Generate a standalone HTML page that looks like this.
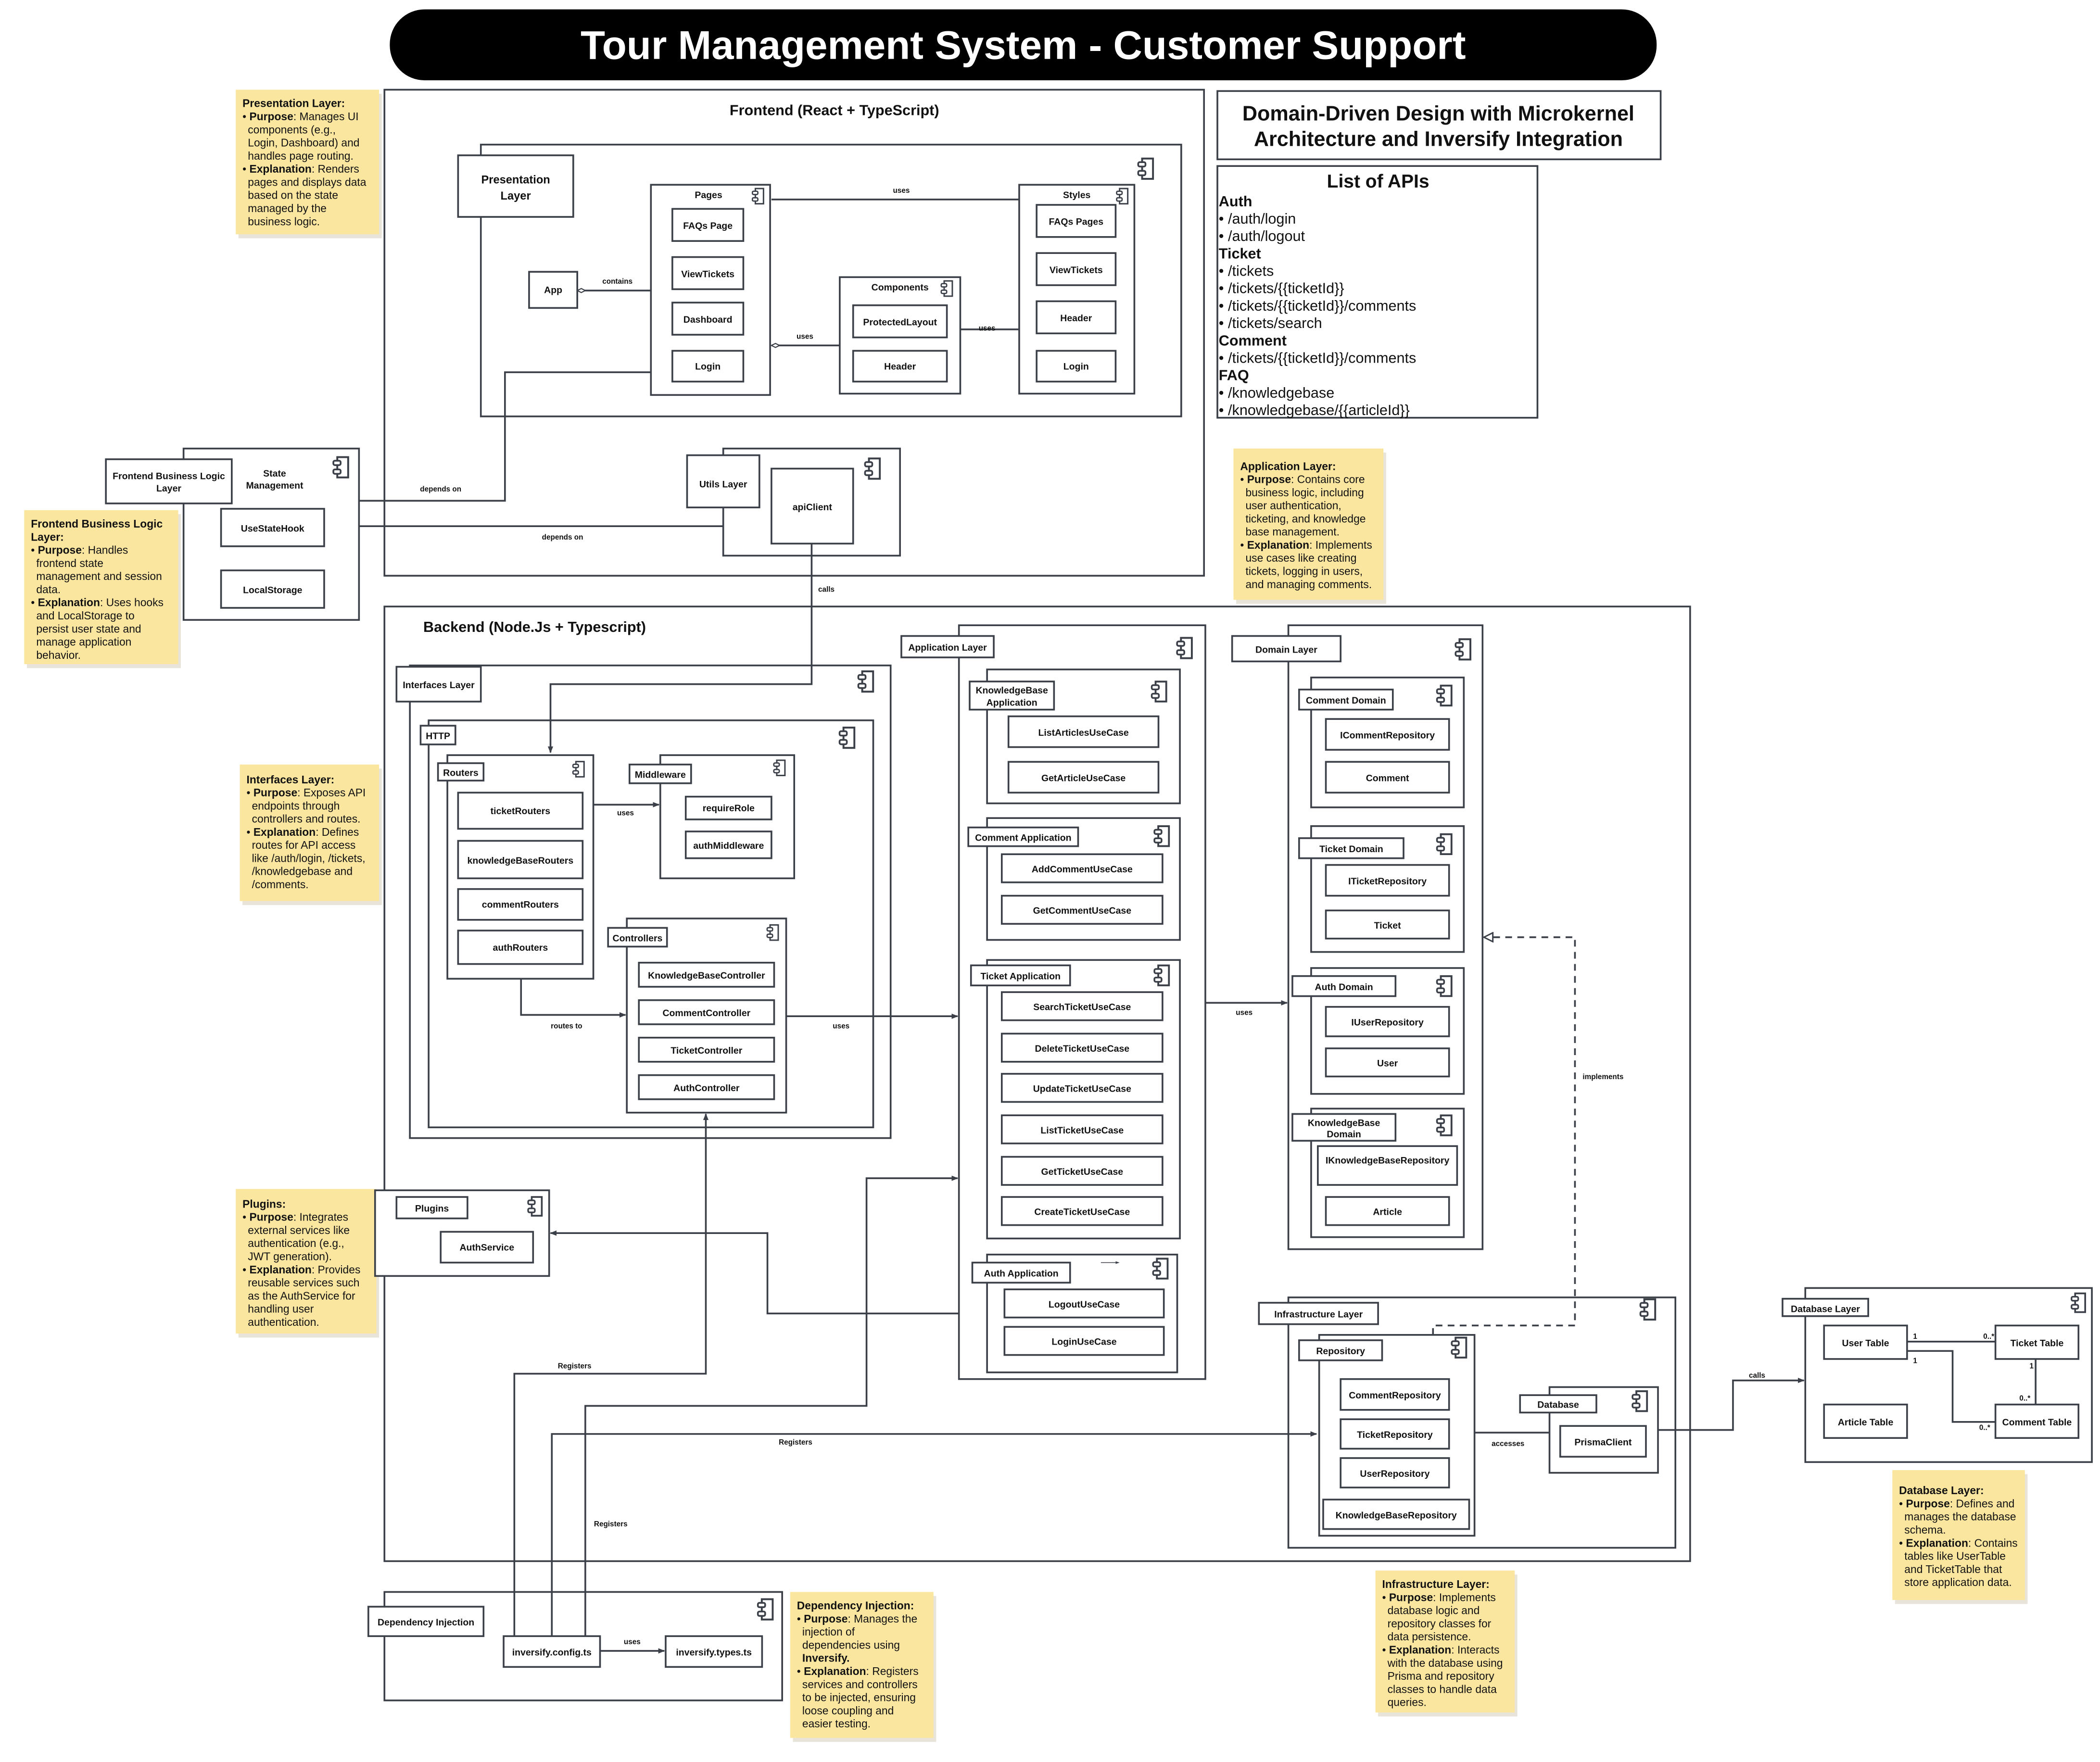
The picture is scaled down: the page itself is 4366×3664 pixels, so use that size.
<!DOCTYPE html>
<html><head><meta charset="utf-8"><style>
html,body{margin:0;padding:0;background:#fff;}
svg{display:block;}
text{font-family:"Liberation Sans",sans-serif;fill:#111;}
.b{fill:#fff;stroke:#3b3f48;stroke-width:1.3;}
.n{fill:none;stroke:#3b3f48;stroke-width:1.3;}
.d{fill:none;stroke:#3b3f48;stroke-width:1.3;stroke-dasharray:5,4;}
.l{font-size:7px;font-weight:bold;text-anchor:middle;}
.s{font-size:5.5px;font-weight:bold;text-anchor:middle;}
.note{fill:#fbe6a0;}
.sh{fill:#e8e4da;}
.nt{font-size:8.2px;}
.nt .k{font-weight:bold;}
</style></head><body>
<svg width="4366" height="3664" viewBox="0 0 1568 1316" xmlns="http://www.w3.org/2000/svg">
<defs>
<symbol id="ic" viewBox="0 0 12 16"><rect x="3.5" y="1" width="7.5" height="14" fill="#fff" stroke="#3b3f48" stroke-width="1.3"/><rect x="0.8" y="3.5" width="5" height="3" rx="1" fill="#fff" stroke="#3b3f48" stroke-width="1.2"/><rect x="0.8" y="9.5" width="5" height="3" rx="1" fill="#fff" stroke="#3b3f48" stroke-width="1.2"/></symbol>
<marker id="ar" viewBox="0 0 10 10" refX="9" refY="5" markerUnits="userSpaceOnUse" markerWidth="5" markerHeight="5" orient="auto"><path d="M0,1 L10,5 L0,9 z" fill="#3b3f48"/></marker>
<marker id="tri" viewBox="0 0 12 12" refX="11" refY="6" markerUnits="userSpaceOnUse" markerWidth="8" markerHeight="8" orient="auto"><path d="M1,1 L11,6 L1,11 z" fill="#fff" stroke="#3b3f48" stroke-width="1.6"/></marker>
<marker id="dia" viewBox="0 0 14 8" refX="13" refY="4" markerUnits="userSpaceOnUse" markerWidth="7" markerHeight="4" orient="auto"><path d="M1,4 L7,1 L13,4 L7,7 z" fill="#fff" stroke="#3b3f48" stroke-width="1.6"/></marker>
</defs>

<!-- Title -->
<rect x="291" y="7" width="946" height="53" rx="26" fill="#000"/>
<text x="764" y="44" style="font-size:30px;font-weight:bold;fill:#fff;text-anchor:middle;">Tour Management System - Customer Support</text>

<!-- Sticky notes -->
<g>
<rect class="sh" x="178" y="70" width="107" height="108"/>
<rect class="note" x="176" y="67" width="107" height="108"/>
<text class="nt" x="181" y="80"><tspan class="k">Presentation Layer:</tspan><tspan x="181" dy="9.8">• <tspan class="k">Purpose</tspan>: Manages UI</tspan><tspan x="185" dy="9.8">components (e.g.,</tspan><tspan x="185" dy="9.8">Login, Dashboard) and</tspan><tspan x="185" dy="9.8">handles page routing.</tspan><tspan x="181" dy="9.8">• <tspan class="k">Explanation</tspan>: Renders</tspan><tspan x="185" dy="9.8">pages and displays data</tspan><tspan x="185" dy="9.8">based on the state</tspan><tspan x="185" dy="9.8">managed by the</tspan><tspan x="185" dy="9.8">business logic.</tspan></text>

<rect class="sh" x="20" y="384" width="115" height="115"/>
<rect class="note" x="18" y="381" width="115" height="115"/>
<text class="nt" x="23" y="394"><tspan class="k">Frontend Business Logic</tspan><tspan x="23" dy="9.8" class="k">Layer:</tspan><tspan x="23" dy="9.8">• <tspan class="k">Purpose</tspan>: Handles</tspan><tspan x="27" dy="9.8">frontend state</tspan><tspan x="27" dy="9.8">management and session</tspan><tspan x="27" dy="9.8">data.</tspan><tspan x="23" dy="9.8">• <tspan class="k">Explanation</tspan>: Uses hooks</tspan><tspan x="27" dy="9.8">and LocalStorage to</tspan><tspan x="27" dy="9.8">persist user state and</tspan><tspan x="27" dy="9.8">manage application</tspan><tspan x="27" dy="9.8">behavior.</tspan></text>

<rect class="sh" x="688" y="323" width="102" height="105"/>
<rect class="note" x="686" y="320" width="102" height="105"/>
<text class="nt" x="690" y="335"><tspan class="k">Utils Layer:</tspan><tspan x="690" dy="9.8">• <tspan class="k">Purpose</tspan>: Contains</tspan><tspan x="694" dy="9.8">utility functions like the</tspan><tspan x="694" dy="9.8">apiClient for backend</tspan><tspan x="694" dy="9.8">communication.</tspan><tspan x="690" dy="9.8">• <tspan class="k">Explanation</tspan>: Simplifies</tspan><tspan x="694" dy="9.8">API calls to the</tspan><tspan x="694" dy="9.8">backend and handles</tspan><tspan x="694" dy="9.8">HTTP requests.</tspan></text>

<rect class="sh" x="923" y="338" width="112" height="113"/>
<rect class="note" x="921" y="335" width="112" height="113"/>
<text class="nt" x="926" y="351"><tspan class="k">Application Layer:</tspan><tspan x="926" dy="9.8">• <tspan class="k">Purpose</tspan>: Contains core</tspan><tspan x="930" dy="9.8">business logic, including</tspan><tspan x="930" dy="9.8">user authentication,</tspan><tspan x="930" dy="9.8">ticketing, and knowledge</tspan><tspan x="930" dy="9.8">base management.</tspan><tspan x="926" dy="9.8">• <tspan class="k">Explanation</tspan>: Implements</tspan><tspan x="930" dy="9.8">use cases like creating</tspan><tspan x="930" dy="9.8">tickets, logging in users,</tspan><tspan x="930" dy="9.8">and managing comments.</tspan></text>

<rect class="sh" x="1123" y="470" width="107" height="108"/>
<rect class="note" x="1121" y="467" width="107" height="108"/>
<text class="nt" x="1126" y="484"><tspan class="k">Domain Layer:</tspan><tspan x="1126" dy="9.8">• <tspan class="k">Purpose</tspan>: Defines core</tspan><tspan x="1130" dy="9.8">entities (e.g., User,</tspan><tspan x="1130" dy="9.8">Ticket) and interfaces</tspan><tspan x="1130" dy="9.8">(e.g., IUserRepository).</tspan><tspan x="1126" dy="9.8">• <tspan class="k">Explanation</tspan>: Holds the</tspan><tspan x="1130" dy="9.8">application's data</tspan><tspan x="1130" dy="9.8">models and repository</tspan><tspan x="1130" dy="9.8">interfaces.</tspan></text>

<rect class="sh" x="181" y="574" width="104" height="102"/>
<rect class="note" x="179" y="571" width="104" height="102"/>
<text class="nt" x="184" y="585"><tspan class="k">Interfaces Layer:</tspan><tspan x="184" dy="9.8">• <tspan class="k">Purpose</tspan>: Exposes API</tspan><tspan x="188" dy="9.8">endpoints through</tspan><tspan x="188" dy="9.8">controllers and routes.</tspan><tspan x="184" dy="9.8">• <tspan class="k">Explanation</tspan>: Defines</tspan><tspan x="188" dy="9.8">routes for API access</tspan><tspan x="188" dy="9.8">like /auth/login, /tickets,</tspan><tspan x="188" dy="9.8">/knowledgebase  and</tspan><tspan x="188" dy="9.8">/comments.</tspan></text>

<rect class="sh" x="178" y="891" width="105" height="108"/>
<rect class="note" x="176" y="888" width="105" height="108"/>
<text class="nt" x="181" y="902"><tspan class="k">Plugins:</tspan><tspan x="181" dy="9.8">• <tspan class="k">Purpose</tspan>: Integrates</tspan><tspan x="185" dy="9.8">external services like</tspan><tspan x="185" dy="9.8">authentication (e.g.,</tspan><tspan x="185" dy="9.8">JWT generation).</tspan><tspan x="181" dy="9.8">• <tspan class="k">Explanation</tspan>: Provides</tspan><tspan x="185" dy="9.8">reusable services such</tspan><tspan x="185" dy="9.8">as the AuthService for</tspan><tspan x="185" dy="9.8">handling user</tspan><tspan x="185" dy="9.8">authentication.</tspan></text>

<rect class="sh" x="592" y="1192" width="107" height="109"/>
<rect class="note" x="590" y="1189" width="107" height="109"/>
<text class="nt" x="595" y="1202"><tspan class="k">Dependency Injection:</tspan><tspan x="595" dy="9.8">• <tspan class="k">Purpose</tspan>: Manages the</tspan><tspan x="599" dy="9.8">injection of</tspan><tspan x="599" dy="9.8">dependencies using</tspan><tspan x="599" dy="9.8" class="k">Inversify.</tspan><tspan x="595" dy="9.8">• <tspan class="k">Explanation</tspan>: Registers</tspan><tspan x="599" dy="9.8">services and controllers</tspan><tspan x="599" dy="9.8">to be injected, ensuring</tspan><tspan x="599" dy="9.8">loose coupling and</tspan><tspan x="599" dy="9.8">easier testing.</tspan></text>

<rect class="sh" x="1029" y="1176" width="104" height="106"/>
<rect class="note" x="1027" y="1173" width="104" height="106"/>
<text class="nt" x="1032" y="1186"><tspan class="k">Infrastructure Layer:</tspan><tspan x="1032" dy="9.8">• <tspan class="k">Purpose</tspan>: Implements</tspan><tspan x="1036" dy="9.8">database logic and</tspan><tspan x="1036" dy="9.8">repository classes for</tspan><tspan x="1036" dy="9.8">data persistence.</tspan><tspan x="1032" dy="9.8">• <tspan class="k">Explanation</tspan>: Interacts</tspan><tspan x="1036" dy="9.8">with the database using</tspan><tspan x="1036" dy="9.8">Prisma and repository</tspan><tspan x="1036" dy="9.8">classes to handle data</tspan><tspan x="1036" dy="9.8">queries.</tspan></text>

<rect class="sh" x="1415" y="1101" width="99" height="97"/>
<rect class="note" x="1413" y="1098" width="99" height="97"/>
<text class="nt" x="1418" y="1116"><tspan class="k">Database Layer:</tspan><tspan x="1418" dy="9.8">• <tspan class="k">Purpose</tspan>: Defines and</tspan><tspan x="1422" dy="9.8">manages the database</tspan><tspan x="1422" dy="9.8">schema.</tspan><tspan x="1418" dy="9.8">• <tspan class="k">Explanation</tspan>: Contains</tspan><tspan x="1422" dy="9.8">tables like UserTable</tspan><tspan x="1422" dy="9.8">and TicketTable that</tspan><tspan x="1422" dy="9.8">store application data.</tspan></text>
</g>

<!-- Frontend -->
<rect class="b" x="287" y="67" width="612" height="363"/>
<text x="623" y="86" style="font-size:11px;font-weight:bold;text-anchor:middle;">Frontend (React + TypeScript)</text>
<rect class="b" x="359" y="108" width="523" height="203"/>
<use href="#ic" x="849" y="117" width="13" height="18"/>
<rect class="b" x="342" y="116" width="86" height="46"/>
<text class="l" x="385" y="137" style="font-size:8.5px">Presentation</text><text class="l" x="385" y="149" style="font-size:8.5px">Layer</text>

<rect class="b" x="486" y="138" width="89" height="157"/>
<text class="l" x="529" y="148">Pages</text><use href="#ic" x="561" y="140" width="10" height="13"/>
<rect class="b" x="502" y="156" width="53" height="24"/><text class="l" x="528.5" y="171">FAQs Page</text>
<rect class="b" x="502" y="192" width="53" height="24"/><text class="l" x="528.5" y="207">ViewTickets</text>
<rect class="b" x="502" y="226" width="53" height="24"/><text class="l" x="528.5" y="241">Dashboard</text>
<rect class="b" x="502" y="262" width="53" height="23"/><text class="l" x="528.5" y="276">Login</text>

<rect class="b" x="761" y="138" width="86" height="156"/>
<text class="l" x="804" y="148">Styles</text><use href="#ic" x="833" y="140" width="10" height="13"/>
<rect class="b" x="774" y="153" width="59" height="24"/><text class="l" x="803.5" y="168">FAQs Pages</text>
<rect class="b" x="774" y="189" width="59" height="24"/><text class="l" x="803.5" y="204">ViewTickets</text>
<rect class="b" x="774" y="225" width="59" height="24"/><text class="l" x="803.5" y="240">Header</text>
<rect class="b" x="774" y="262" width="59" height="23"/><text class="l" x="803.5" y="276">Login</text>

<rect class="b" x="627" y="207" width="90" height="87"/>
<text class="l" x="672" y="217">Components</text><use href="#ic" x="702" y="209" width="10" height="13"/>
<rect class="b" x="637" y="228" width="70" height="24"/><text class="l" x="672" y="243">ProtectedLayout</text>
<rect class="b" x="637" y="262" width="70" height="23"/><text class="l" x="672" y="276">Header</text>

<rect class="b" x="395" y="203" width="36" height="27"/><text class="l" x="413" y="219">App</text>
<line class="n" x1="486" y1="217" x2="431" y2="217" marker-end="url(#dia)"/>
<text class="s" x="461" y="212">contains</text>
<line class="n" x1="576" y1="149" x2="761" y2="149"/><text class="s" x="673" y="144">uses</text>
<line class="n" x1="627" y1="258" x2="576" y2="258" marker-end="url(#dia)"/><text class="s" x="601" y="253">uses</text>
<line class="n" x1="717" y1="246" x2="761" y2="246"/><text class="s" x="737" y="247">uses</text>

<polyline class="n" points="486,278 377,278 377,374 268,374"/><text class="s" x="329" y="367">depends on</text>

<rect class="b" x="540" y="335" width="132" height="80"/>
<use href="#ic" x="645" y="341" width="13" height="18"/>
<rect class="b" x="513" y="340" width="54" height="39"/><text class="l" x="540" y="364">Utils Layer</text>
<rect class="b" x="576" y="350" width="61" height="56"/><text class="l" x="606.5" y="381">apiClient</text>
<line class="n" x1="268" y1="393" x2="540" y2="393"/><text class="s" x="420" y="403">depends on</text>

<rect class="b" x="137" y="335" width="131" height="128"/>
<use href="#ic" x="248" y="340" width="13" height="18"/>
<rect class="b" x="79" y="343" width="94" height="33"/>
<text class="l" x="126" y="358">Frontend Business Logic</text><text class="l" x="126" y="367">Layer</text>
<text class="l" x="205" y="356">State</text><text class="l" x="205" y="365">Management</text>
<rect class="b" x="165" y="380" width="77" height="28"/><text class="l" x="203.5" y="397">UseStateHook</text>
<rect class="b" x="165" y="426" width="77" height="28"/><text class="l" x="203.5" y="443">LocalStorage</text>

<!-- DDD title & APIs -->
<rect class="b" x="909" y="68" width="331" height="51"/>
<text x="1074" y="90" style="font-size:15.5px;font-weight:bold;text-anchor:middle;">Domain-Driven Design with Microkernel</text>
<text x="1074" y="109" style="font-size:15.5px;font-weight:bold;text-anchor:middle;">Architecture and Inversify Integration</text>
<rect class="b" x="909" y="124" width="239" height="188"/>
<text x="1029" y="140" style="font-size:14px;font-weight:bold;text-anchor:middle;">List of APIs</text>
<text x="910" y="154" style="font-size:11px;"><tspan font-weight="bold">Auth</tspan><tspan x="910" dy="13">• /auth/login</tspan><tspan x="910" dy="13">• /auth/logout</tspan><tspan x="910" dy="13" font-weight="bold">Ticket</tspan><tspan x="910" dy="13">• /tickets</tspan><tspan x="910" dy="13">• /tickets/{{ticketId}}</tspan><tspan x="910" dy="13">• /tickets/{{ticketId}}/comments</tspan><tspan x="910" dy="13">• /tickets/search</tspan><tspan x="910" dy="13" font-weight="bold">Comment</tspan><tspan x="910" dy="13">• /tickets/{{ticketId}}/comments</tspan><tspan x="910" dy="13" font-weight="bold">FAQ</tspan><tspan x="910" dy="13">• /knowledgebase</tspan><tspan x="910" dy="13">• /knowledgebase/{{articleId}}</tspan></text>

<!-- Backend -->
<rect class="b" x="287" y="453" width="975" height="713"/>
<text x="316" y="472" style="font-size:11px;font-weight:bold;">Backend (Node.Js + Typescript)</text>

<!-- Interfaces -->
<rect class="b" x="306" y="497" width="359" height="353"/>
<use href="#ic" x="640" y="500" width="13" height="18"/>
<rect class="b" x="296" y="498" width="63" height="26"/><text class="l" x="327.5" y="514">Interfaces Layer</text>
<rect class="b" x="320" y="538" width="332" height="304"/>
<use href="#ic" x="626" y="542" width="13" height="18"/>
<rect class="b" x="314" y="542" width="26" height="14"/><text class="l" x="327" y="552">HTTP</text>

<rect class="b" x="334" y="564" width="109" height="167"/>
<use href="#ic" x="427" y="568" width="10" height="13"/>
<rect class="b" x="327" y="570" width="34" height="13"/><text class="l" x="344" y="579.5">Routers</text>
<rect class="b" x="342" y="592" width="93" height="27"/><text class="l" x="388.5" y="608">ticketRouters</text>
<rect class="b" x="342" y="628" width="93" height="28"/><text class="l" x="388.5" y="645">knowledgeBaseRouters</text>
<rect class="b" x="342" y="664" width="93" height="23"/><text class="l" x="388.5" y="678">commentRouters</text>
<rect class="b" x="342" y="695" width="93" height="25"/><text class="l" x="388.5" y="710">authRouters</text>

<rect class="b" x="493" y="564" width="100" height="92"/>
<use href="#ic" x="577" y="567" width="10" height="13"/>
<rect class="b" x="470" y="571" width="46" height="14"/><text class="l" x="493" y="581">Middleware</text>
<rect class="b" x="512" y="595" width="64" height="17"/><text class="l" x="544" y="606">requireRole</text>
<rect class="b" x="512" y="621" width="64" height="20"/><text class="l" x="544" y="634">authMiddleware</text>
<line class="n" x1="443" y1="601" x2="492" y2="601" marker-end="url(#ar)"/><text class="s" x="467" y="609">uses</text>

<rect class="b" x="468" y="686" width="119" height="145"/>
<use href="#ic" x="572" y="690" width="10" height="13"/>
<rect class="b" x="454" y="693" width="44" height="14"/><text class="l" x="476" y="703">Controllers</text>
<rect class="b" x="477" y="719" width="101" height="18"/><text class="l" x="527.5" y="731">KnowledgeBaseController</text>
<rect class="b" x="477" y="747" width="101" height="18"/><text class="l" x="527.5" y="759">CommentController</text>
<rect class="b" x="477" y="775" width="101" height="18"/><text class="l" x="527.5" y="787">TicketController</text>
<rect class="b" x="477" y="803" width="101" height="18"/><text class="l" x="527.5" y="815">AuthController</text>
<polyline class="n" points="389,731 389,758 467,758" marker-end="url(#ar)"/><text class="s" x="423" y="768">routes to</text>
<line class="n" x1="587" y1="759" x2="715" y2="759" marker-end="url(#ar)"/><text class="s" x="628" y="768">uses</text>

<!-- calls from apiClient -->
<polyline class="n" points="606,406 606,511 411,511 411,562" marker-end="url(#ar)"/><text class="s" x="617" y="442">calls</text>

<!-- Plugins -->
<rect class="b" x="280" y="889" width="130" height="64"/>
<use href="#ic" x="393" y="893" width="13" height="16"/>
<rect class="b" x="296" y="894" width="53" height="16"/><text class="l" x="322.5" y="905">Plugins</text>
<rect class="b" x="329" y="920" width="69" height="23"/><text class="l" x="363.5" y="934">AuthService</text>
<polyline class="n" points="737,981 573,981 573,921 411,921" marker-end="url(#ar)"/>

<!-- Application Layer -->
<rect class="b" x="716" y="467" width="184" height="563"/>
<use href="#ic" x="878" y="475" width="13" height="18"/>
<rect class="b" x="673" y="475" width="69" height="16"/><text class="l" x="707.5" y="486">Application Layer</text>

<rect class="b" x="737" y="500" width="144" height="100"/>
<use href="#ic" x="859" y="508" width="13" height="17"/>
<rect class="b" x="724" y="509" width="63" height="21"/><text class="l" x="755.5" y="518">KnowledgeBase</text><text class="l" x="755.5" y="527">Application</text>
<rect class="b" x="753" y="535" width="112" height="23"/><text class="l" x="809" y="549.5">ListArticlesUseCase</text>
<rect class="b" x="753" y="569" width="112" height="23"/><text class="l" x="809" y="583.5">GetArticleUseCase</text>

<rect class="b" x="737" y="611" width="144" height="91"/>
<use href="#ic" x="861" y="616" width="13" height="17"/>
<rect class="b" x="723" y="618" width="82" height="14"/><text class="l" x="764" y="628">Comment Application</text>
<rect class="b" x="748" y="638" width="120" height="21"/><text class="l" x="808" y="651.5">AddCommentUseCase</text>
<rect class="b" x="748" y="669" width="120" height="21"/><text class="l" x="808" y="682.5">GetCommentUseCase</text>

<rect class="b" x="737" y="717" width="144" height="208"/>
<use href="#ic" x="861" y="720" width="13" height="17"/>
<rect class="b" x="725" y="721" width="74" height="15"/><text class="l" x="762" y="731.5">Ticket Application</text>
<rect class="b" x="748" y="741" width="120" height="21"/><text class="l" x="808" y="754.5">SearchTicketUseCase</text>
<rect class="b" x="748" y="772" width="120" height="21"/><text class="l" x="808" y="785.5">DeleteTicketUseCase</text>
<rect class="b" x="748" y="802" width="120" height="21"/><text class="l" x="808" y="815.5">UpdateTicketUseCase</text>
<rect class="b" x="748" y="833" width="120" height="21"/><text class="l" x="808" y="846.5">ListTicketUseCase</text>
<rect class="b" x="748" y="864" width="120" height="21"/><text class="l" x="808" y="877.5">GetTicketUseCase</text>
<rect class="b" x="748" y="894" width="120" height="21"/><text class="l" x="808" y="907.5">CreateTicketUseCase</text>

<rect class="b" x="737" y="937" width="142" height="88"/>
<use href="#ic" x="860" y="939" width="13" height="17"/>
<line x1="822" y1="943" x2="834" y2="943" stroke="#3b3f48" stroke-width="0.5"/><path d="M833,942 L836,943 L833,944 z" fill="#3b3f48"/>
<rect class="b" x="726" y="943" width="73" height="15"/><text class="l" x="762.5" y="953.5">Auth Application</text>
<rect class="b" x="750" y="963" width="119" height="21"/><text class="l" x="809.5" y="976.5">LogoutUseCase</text>
<rect class="b" x="750" y="991" width="119" height="21"/><text class="l" x="809.5" y="1004.5">LoginUseCase</text>

<line class="n" x1="900" y1="749" x2="961" y2="749" marker-end="url(#ar)"/><text class="s" x="929" y="758">uses</text>

<!-- Domain Layer -->
<rect class="b" x="962" y="467" width="145" height="466"/>
<use href="#ic" x="1086" y="476" width="13" height="18"/>
<rect class="b" x="920" y="475" width="81" height="19"/><text class="l" x="960.5" y="487.5">Domain Layer</text>

<rect class="b" x="979" y="506" width="114" height="97"/>
<use href="#ic" x="1072" y="511" width="13" height="17"/>
<rect class="b" x="970" y="515" width="70" height="15"/><text class="l" x="1005" y="525.5">Comment Domain</text>
<rect class="b" x="990" y="537" width="92" height="23"/><text class="l" x="1036" y="551.5">ICommentRepository</text>
<rect class="b" x="990" y="569" width="92" height="23"/><text class="l" x="1036" y="583.5">Comment</text>

<rect class="b" x="979" y="617" width="114" height="94"/>
<use href="#ic" x="1072" y="622" width="13" height="17"/>
<rect class="b" x="970" y="626" width="78" height="15"/><text class="l" x="1009" y="636.5">Ticket Domain</text>
<rect class="b" x="990" y="646" width="92" height="23"/><text class="l" x="1036" y="660.5">ITicketRepository</text>
<rect class="b" x="990" y="680" width="92" height="21"/><text class="l" x="1036" y="693.5">Ticket</text>

<rect class="b" x="979" y="723" width="114" height="94"/>
<use href="#ic" x="1072" y="728" width="13" height="17"/>
<rect class="b" x="965" y="729" width="77" height="15"/><text class="l" x="1003.5" y="739.5">Auth Domain</text>
<rect class="b" x="990" y="752" width="92" height="22"/><text class="l" x="1036" y="766">IUserRepository</text>
<rect class="b" x="990" y="783" width="92" height="21"/><text class="l" x="1036" y="796.5">User</text>

<rect class="b" x="979" y="828" width="114" height="96"/>
<use href="#ic" x="1072" y="832" width="13" height="17"/>
<rect class="b" x="965" y="832" width="77" height="20"/><text class="l" x="1003.5" y="841">KnowledgeBase</text><text class="l" x="1003.5" y="849.5">Domain</text>
<rect class="b" x="984" y="856" width="104" height="29"/><text class="l" x="1036" y="869">IKnowledgeBaseRepository</text>
<rect class="b" x="990" y="894" width="92" height="21"/><text class="l" x="1036" y="907.5">Article</text>

<!-- Infrastructure -->
<rect class="b" x="962" y="969" width="289" height="187"/>
<use href="#ic" x="1224" y="969" width="13" height="18"/>
<rect class="b" x="940" y="973" width="89" height="16"/><text class="l" x="984.5" y="984">Infrastructure Layer</text>
<polyline class="d" points="1070,997 1070,990 1176,990 1176,700 1108,700" marker-end="url(#tri)"/>
<text class="s" x="1197" y="806">implements</text>

<rect class="b" x="985" y="997" width="116" height="150"/>
<use href="#ic" x="1083" y="998" width="13" height="17"/>
<rect class="b" x="970" y="1001" width="62" height="15"/><text class="l" x="1001" y="1011.5">Repository</text>
<rect class="b" x="1001" y="1030" width="81" height="23"/><text class="l" x="1041.5" y="1044.5">CommentRepository</text>
<rect class="b" x="1001" y="1060" width="81" height="22"/><text class="l" x="1041.5" y="1074">TicketRepository</text>
<rect class="b" x="1001" y="1089" width="81" height="22"/><text class="l" x="1041.5" y="1103">UserRepository</text>
<rect class="b" x="988" y="1120" width="109" height="22"/><text class="l" x="1042.5" y="1134">KnowledgeBaseRepository</text>

<rect class="b" x="1157" y="1036" width="81" height="64"/>
<use href="#ic" x="1218" y="1038" width="13" height="17"/>
<rect class="b" x="1135" y="1042" width="57" height="13"/><text class="l" x="1163.5" y="1051.5">Database</text>
<rect class="b" x="1165" y="1065" width="64" height="23"/><text class="l" x="1197" y="1079.5">PrismaClient</text>
<line class="n" x1="1101" y1="1070" x2="1157" y2="1070"/><text class="s" x="1126" y="1080">accesses</text>
<polyline class="n" points="1238,1068 1294,1068 1294,1031 1347,1031" marker-end="url(#ar)"/><text class="s" x="1312" y="1029">calls</text>

<!-- Database Layer -->
<rect class="b" x="1348" y="962" width="214" height="130"/>
<use href="#ic" x="1546" y="965" width="12" height="16"/>
<rect class="b" x="1331" y="970" width="64" height="13"/><text class="l" x="1363" y="980">Database Layer</text>
<rect class="b" x="1362" y="990" width="62" height="25"/><text class="l" x="1393" y="1005.5">User Table</text>
<rect class="b" x="1490" y="990" width="62" height="25"/><text class="l" x="1521" y="1005.5">Ticket Table</text>
<rect class="b" x="1362" y="1049" width="62" height="25"/><text class="l" x="1393" y="1064.5">Article Table</text>
<rect class="b" x="1490" y="1049" width="62" height="25"/><text class="l" x="1521" y="1064.5">Comment Table</text>
<line class="n" x1="1424" y1="1002" x2="1490" y2="1002"/>
<polyline class="n" points="1424,1009 1458,1009 1458,1062 1490,1062"/>
<line class="n" x1="1520" y1="1015" x2="1520" y2="1049"/>
<text class="s" x="1430" y="1000">1</text><text class="s" x="1485" y="1000">0..*</text>
<text class="s" x="1430" y="1018">1</text><text class="s" x="1482" y="1068">0..*</text>
<text class="s" x="1517" y="1022">1</text><text class="s" x="1512" y="1046">0..*</text>

<!-- Dependency Injection -->
<rect class="b" x="287" y="1189" width="297" height="81"/>
<use href="#ic" x="565" y="1193" width="13" height="18"/>
<rect class="b" x="275" y="1200" width="86" height="22"/><text class="l" x="318" y="1214">Dependency Injection</text>
<rect class="b" x="376" y="1222" width="72" height="23"/><text class="l" x="412" y="1236.5">inversify.config.ts</text>
<rect class="b" x="497" y="1222" width="72" height="23"/><text class="l" x="533" y="1236.5">inversify.types.ts</text>
<line class="n" x1="448" y1="1233" x2="496" y2="1233" marker-end="url(#ar)"/><text class="s" x="472" y="1228">uses</text>

<!-- Registers -->
<polyline class="n" points="384,1222 384,1026 527,1026 527,832" marker-end="url(#ar)"/><text class="s" x="429" y="1022">Registers</text>
<polyline class="n" points="412,1222 412,1071 983,1071" marker-end="url(#ar)"/><text class="s" x="594" y="1079">Registers</text>
<polyline class="n" points="437,1222 437,1050 647,1050 647,880 715,880" marker-end="url(#ar)"/><text class="s" x="456" y="1140">Registers</text>
</svg>
</body></html>
